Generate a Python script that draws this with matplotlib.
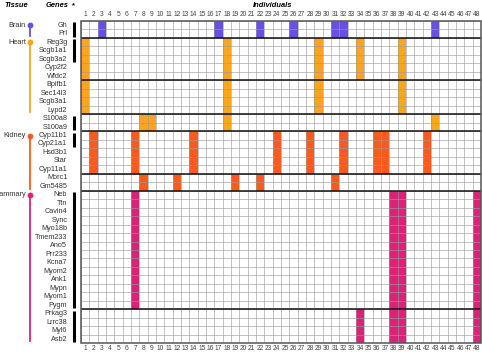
import matplotlib
matplotlib.use("Agg")
import matplotlib.pyplot as plt

plt.rcParams['font.family'] = ['Liberation Sans', 'DejaVu Sans']

# individuals 1..48
n_ind = 48

# gene blocks: (genes, individuals with marked expression)
brain_genes = ["Gh", "Prl"]
brain_cols = [3, 17, 22, 26, 31, 32, 43]

heart_a_genes = ["Reg3g", "Scgb1a1", "Scgb3a2", "Cyp2f2", "Wfdc2"]
heart_a_cols = [1, 18, 29, 34, 39]
heart_b_genes = ["Bpifb1", "Sec14l3", "Scgb3a1", "Lypd2"]
heart_b_cols = [1, 18, 29, 39]
heart_c_genes = ["S100a8", "S100a9"]
heart_c_cols = [8, 9, 18, 43]

kidney_a_genes = ["Cyp11b1", "Cyp21a1", "Hsd3b1", "Star", "Cyp11a1"]
kidney_a_cols = [2, 7, 14, 24, 28, 32, 36, 37, 42]
kidney_b_genes = ["Morc1", "Gm5485"]
kidney_b_cols = [8, 12, 19, 22, 31]

mammary_a_genes = ["Neb", "Ttn", "Cavin4", "Sync", "Myo18b", "Tmem233", "Ano5",
                   "Prr233", "Kcna7", "Myom2", "Ank1", "Mypn", "Myom1", "Pygm"]
mammary_a_cols = [7, 38, 39, 48]
mammary_b_genes = ["Prkag3", "Lrrc38", "Myl6", "Asb2"]
mammary_b_cols = [34, 38, 39, 48]

tissues = ["Brain", "Heart", "Kidney", "Mammary"]
tissue_colors = {"Brain": "#6a4fe3", "Heart": "#fba41f",
                 "Kidney": "#ff5a1e", "Mammary": "#dc2277"}
# first and last gene of each tissue's line
tissue_span = {"Brain": ("Gh", "Prl"), "Heart": ("Reg3g", "Lypd2"),
               "Kidney": ("Cyp11b1", "Gm5485"), "Mammary": ("Neb", "Asb2")}

# gene clusters marked in the "*" column
clusters = [("Gh", "Prl"), ("Reg3g", "Scgb3a2"), ("S100a8", "S100a9"),
            ("Cyp11b1", "Cyp21a1"), ("Neb", "Pygm"), ("Prkag3", "Asb2")]

blocks = [
    ("Brain", brain_genes, brain_cols),
    ("Heart", heart_a_genes, heart_a_cols),
    ("Heart", heart_b_genes, heart_b_cols),
    ("Heart", heart_c_genes, heart_c_cols),
    ("Kidney", kidney_a_genes, kidney_a_cols),
    ("Kidney", kidney_b_genes, kidney_b_cols),
    ("Mammary", mammary_a_genes, mammary_a_cols),
    ("Mammary", mammary_b_genes, mammary_b_cols),
]

genes = [g for _, gl, _ in blocks for g in gl]
row = {g: i for i, g in enumerate(genes)}
n_rows = len(genes)

fig = plt.figure(figsize=(4.82, 3.52), dpi=100)
ax = fig.add_axes([81 / 482, 1 - 343.3 / 352, 400 / 482, 322.3 / 352])
ax.set_xlim(0, n_ind)
ax.set_ylim(n_rows, 0)
ax.axis("off")

# coloured cells
start = 0
for tissue, gl, cols in blocks:
    for c in cols:
        ax.bar(c - 0.5, len(gl), bottom=start, width=1.0,
               color=tissue_colors[tissue], edgecolor="none", zorder=1)
    start += len(gl)

# light grid
ax.vlines(range(n_ind + 1), 0, n_rows, color="#9a9a9a", lw=0.6, alpha=0.7, zorder=2)
ax.hlines(range(n_rows + 1), 0, n_ind, color="#9a9a9a", lw=0.6, alpha=0.7, zorder=2)

# block separators
start = 0
for _, gl, _ in blocks[:-1]:
    start += len(gl)
    ax.hlines(start, 0, n_ind, color="#111111", lw=1.1, zorder=3)
ax.add_patch(plt.Rectangle((0, 0), n_ind, n_rows, fill=False,
                           edgecolor="#555555", lw=1.1, zorder=4, clip_on=False))

# column numbers
for i in range(1, n_ind + 1):
    ax.text(i - 0.5, -0.72, str(i), ha="center", va="center", fontsize=4.8,
            color="#444444", clip_on=False)
    ax.text(i - 0.5, n_rows + 0.6, str(i), ha="center", va="center", fontsize=4.8,
            color="#444444", clip_on=False)

# gene labels
for g in genes:
    ax.text(-1.65, row[g] + 0.5, g, ha="right", va="center", fontsize=5.2,
            color="#333333", clip_on=False)

# cluster bars
for a, b in clusters:
    ax.plot([-0.86, -0.86], [row[a] + 0.15, row[b] + 0.85], color="black",
            lw=2.2, solid_capstyle="butt", clip_on=False)

# tissue lines
for t in tissues:
    a, b = tissue_span[t]
    y0, y1 = row[a] + 0.5, row[b] + 0.75
    ax.plot([-6.12, -6.12], [y0, y1], color=tissue_colors[t], lw=1.3,
            clip_on=False)
    ax.plot(-6.12, y0, "o", color=tissue_colors[t], ms=3.2, clip_on=False)
    ax.text(-6.6, y0, t, ha="right", va="center", fontsize=5.3,
            color="#333333", clip_on=False)

# headers
ax.text(-7.8, -1.85, "Tissue", ha="center", va="center", fontsize=5.4,
        fontweight="bold", fontstyle="italic", clip_on=False)
ax.text(-2.9, -1.85, "Genes", ha="center", va="center", fontsize=5.4,
        fontweight="bold", fontstyle="italic", clip_on=False)
ax.text(-0.86, -1.85, "*", ha="center", va="center", fontsize=5.4,
        fontweight="bold", clip_on=False)
ax.text(23.0, -1.85, "Individuals", ha="center", va="center", fontsize=5.4,
        fontweight="bold", fontstyle="italic", clip_on=False)

fig.savefig("out.png", dpi=100)
